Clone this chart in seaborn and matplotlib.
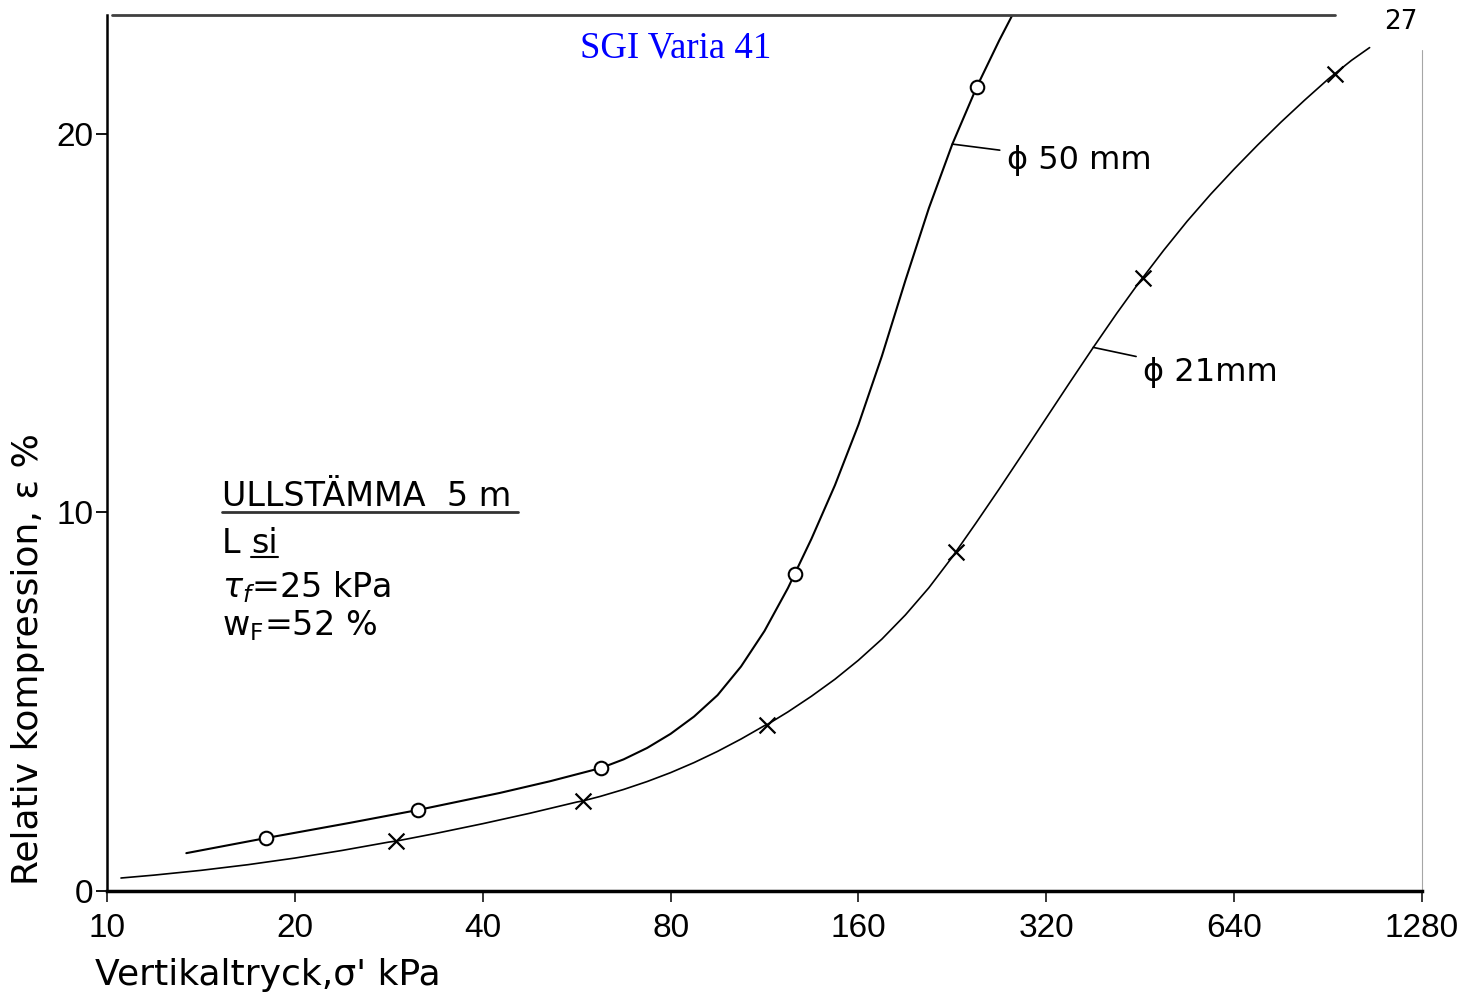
import matplotlib
matplotlib.use("Agg")
import matplotlib.pyplot as plt
from matplotlib import font_manager
from matplotlib.lines import Line2D
from matplotlib.ticker import NullLocator
import pandas as pd
import seaborn as sns

# Oedometer tests, Ullstämma 5 m: vertical stress (kPa) against relative compression (%)
# Measured points, 50 mm specimen
stress_50 = [18.0, 31.5, 61.9, 126.5, 247.6]
strain_50 = [1.40, 2.14, 3.25, 8.38, 21.24]
# Measured points, 21 mm specimen
stress_21 = [29.1, 57.9, 114.1, 229.2, 456.8, 928.0]
strain_21 = [1.32, 2.38, 4.39, 8.96, 16.20, 21.59]

# Faired curves drawn through the measured points
curve_50_x = [13.4, 18.0, 24.5, 31.5, 42.6, 51.3, 61.9, 67.27, 73.36, 80.0, 87.24,
              95.14, 103.74, 113.14, 123.38, 126.5, 134.54, 146.72, 160.0, 174.48,
              190.27, 207.49, 226.27, 247.6, 269.08, 293.44]
curve_50_y = [1.00, 1.40, 1.80, 2.14, 2.59, 2.90, 3.25, 3.477, 3.778, 4.151, 4.608,
              5.173, 5.929, 6.869, 8.005, 8.38, 9.303, 10.719, 12.315, 14.132,
              16.127, 18.037, 19.730, 21.24, 22.473, 23.67]
curve_21_x = [10.53, 11.89, 14.14, 16.82, 20.0, 23.78, 28.28, 29.1, 33.64, 40.0,
              47.57, 56.57, 57.9, 61.69, 67.27, 73.36, 80.0, 87.24, 95.14, 103.74,
              113.14, 114.1, 123.38, 134.54, 146.72, 160.0, 174.48, 190.27, 207.49,
              226.27, 229.2, 246.74, 269.08, 293.44, 320.0, 348.96, 380.55, 414.99,
              452.55, 456.8, 493.51, 538.18, 586.88, 640.0, 697.93, 761.08, 829.98,
              905.10, 928.0, 987.0, 1055.0]
curve_21_y = [0.343, 0.419, 0.545, 0.695, 0.870, 1.070, 1.292, 1.32, 1.521, 1.778,
              2.053, 2.349, 2.38, 2.498, 2.682, 2.891, 3.126, 3.392, 3.688, 4.014,
              4.369, 4.39, 4.732, 5.145, 5.594, 6.096, 6.655, 7.292, 8.010,
              8.826, 8.96, 9.715, 10.625, 11.556, 12.495, 13.433, 14.358, 15.258,
              16.119, 16.20, 16.925, 17.693, 18.405, 19.070, 19.705, 20.313, 20.890,
              21.444, 21.59, 21.943, 22.279]

x_ticks = [10, 20, 40, 80, 160, 320, 640, 1280]
y_ticks = [0, 10, 20]

sns.set_style("ticks")
available = {f.name for f in font_manager.fontManager.ttflist}
narrow = "Liberation Sans Narrow" if "Liberation Sans Narrow" in available else "Liberation Sans"
plt.rcParams["font.family"] = ["DejaVu Sans"]
plt.rcParams["mathtext.fontset"] = "dejavusans"
for key in ("text.color", "axes.labelcolor", "xtick.color", "ytick.color",
            "axes.edgecolor"):
    plt.rcParams[key] = "black"

fig = plt.figure(figsize=(14.71, 10.01), dpi=100)
ax = fig.add_axes([107 / 1471, 110 / 1001, 1315 / 1471, 876 / 1001])

df50 = pd.DataFrame({"x": curve_50_x, "y": curve_50_y})
df21 = pd.DataFrame({"x": curve_21_x, "y": curve_21_y})
sns.lineplot(data=df50, x="x", y="y", sort=False, estimator=None,
             color="black", lw=1.5, ax=ax)
sns.lineplot(data=df21, x="x", y="y", sort=False, estimator=None,
             color="black", lw=1.2, ax=ax)
sns.scatterplot(x=stress_50, y=strain_50, marker="o", s=95, facecolor="white",
                edgecolor="black", linewidth=1.5, zorder=5, ax=ax)
sns.scatterplot(x=stress_21, y=strain_21, marker="x", s=130, color="black",
                linewidth=1.6, zorder=5, ax=ax)

ax.set_xscale("log", base=2)
ax.set_xlim(10, 1280)
ax.set_ylim(0, 23.14)
ax.set_xticks(x_ticks)
ax.set_xticklabels([str(v) for v in x_ticks])
ax.set_yticks(y_ticks)
ax.set_yticklabels([str(v) for v in y_ticks])
ax.xaxis.set_minor_locator(NullLocator())
ax.yaxis.set_minor_locator(NullLocator())
tick_size = 26 if narrow != "Liberation Sans" else 24
ax.tick_params(axis="x", direction="out", length=8, width=1.1, pad=8,
               labelsize=tick_size)
ax.tick_params(axis="y", direction="out", length=8, width=1.3, pad=2,
               labelsize=tick_size)
for lab in ax.get_xticklabels() + ax.get_yticklabels():
    lab.set_fontfamily([narrow, "DejaVu Sans"])

# Frame: heavy left and bottom lines, hand-ruled top, faint right edge
for side in ("top", "right"):
    ax.spines[side].set_visible(False)
ax.spines["left"].set_linewidth(1.8)
ax.spines["bottom"].set_linewidth(2.5)
ax.add_line(Line2D([0.004, 0.934], [1.0, 1.0], transform=ax.transAxes,
                   color="0.25", lw=2.0, clip_on=False))
ax.add_line(Line2D([1.0, 1.0], [0.0, 0.96], transform=ax.transAxes,
                   color="0.65", lw=0.8, clip_on=False))

ax.set_xlabel("Vertikaltryck,σ' kPa", fontsize=26, loc="left")
ax.xaxis.set_label_coords(-0.009, -0.076)
ax.set_ylabel("Relativ kompression, ε %", fontsize=26)
ax.yaxis.set_label_coords(-0.047, 0.265)

# Curve labels with leader lines
ax.annotate("ϕ 50 mm", xy=(226.27, 19.73), xytext=(277, 19.3), ha="left", va="center",
            fontsize=23, arrowprops=dict(arrowstyle="-", lw=1.2, color="black",
                                         shrinkA=3, shrinkB=0))
ax.annotate("ϕ 21mm", xy=(380.55, 14.36), xytext=(458, 13.7), ha="left", va="center",
            fontsize=23, arrowprops=dict(arrowstyle="-", lw=1.2, color="black",
                                         shrinkA=3, shrinkB=0))

# Sample description block
tx = 0.0875
t_head = ax.text(tx, 0.4395, "ULLSTÄMMA  5 m", transform=ax.transAxes,
                 fontsize=24, va="baseline", ha="left")
t_l = ax.text(tx, 0.386, "L ", transform=ax.transAxes, fontsize=24,
              va="baseline", ha="left")
ax.text(tx, 0.3356, r"$\tau_f$=25 kPa", transform=ax.transAxes, fontsize=24,
        va="baseline", ha="left")
ax.text(tx, 0.292, r"w$_\mathrm{F}$=52 %", transform=ax.transAxes, fontsize=24,
        va="baseline", ha="left")

fig.canvas.draw()
renderer = fig.canvas.get_renderer()
inv = ax.transAxes.inverted()
bb = t_head.get_window_extent(renderer)
(x0, _), (x1, _) = inv.transform([[bb.x0, bb.y0], [bb.x1, bb.y1]])
ax.add_line(Line2D([x0, x1 + 0.005], [0.4326, 0.4326], transform=ax.transAxes,
                   color="0.2", lw=2.0))
bl = t_l.get_window_extent(renderer)
sx = inv.transform([[bl.x1, bl.y0]])[0][0]
t_si = ax.text(sx, 0.386, "si", transform=ax.transAxes, fontsize=24,
               va="baseline", ha="left")
fig.canvas.draw()
bs = t_si.get_window_extent(renderer)
(s0, _), (s1, _) = inv.transform([[bs.x0, bs.y0], [bs.x1, bs.y1]])
ax.add_line(Line2D([s0, s1], [0.381, 0.381], transform=ax.transAxes,
                   color="black", lw=1.5))

fig.text(0.459, 0.952, "SGI Varia 41", color="#0000ff", fontsize=26.5,
         family=["Liberation Serif", "DejaVu Serif"], ha="center", va="center")
fig.text(0.952, 0.978, "27", fontsize=19, ha="center", va="center")

fig.savefig("out.png", dpi=100)
